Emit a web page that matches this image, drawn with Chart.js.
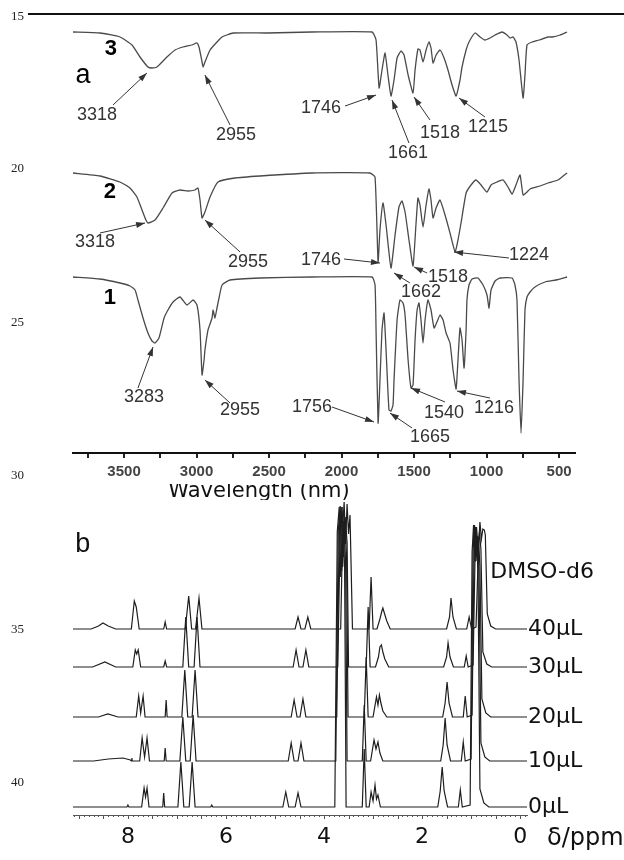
<!DOCTYPE html>
<html>
<head>
<meta charset="utf-8">
<script src="https://cdn.jsdelivr.net/npm/chart.js@4.4.1/dist/chart.umd.min.js"></script>
<style>
  body { margin: 0; background: #fff; width: 624px; height: 860px; position: relative; overflow: hidden; }
  canvas { position: absolute; left: 0; }
  #ir { top: 0; }
  #nmr { top: 490px; }
  #rule { position: absolute; left: 28px; top: 13px; width: 596px; height: 2px; background: #111; }
  .ln { position: absolute; left: 11px; font: 13px "Liberation Serif", serif; line-height: 14px; color: #222; }
</style>
</head>
<body>
<canvas id="ir" width="624" height="500" style="width:624px;height:500px"></canvas>
<canvas id="nmr" width="624" height="370" style="width:624px;height:370px"></canvas>
<div id="rule"></div>
<div class="ln" style="top:9px">15</div>
<div class="ln" style="top:161px">20</div>
<div class="ln" style="top:315px">25</div>
<div class="ln" style="top:468px">30</div>
<div class="ln" style="top:622px">35</div>
<div class="ln" style="top:775px">40</div>
<script>
// ---- panel a : IR spectra, [wavenumber, transmittance (arb.)]
const irTrace3 = [[3852,421],[3666,420],[3528,416],[3445,408],[3390,396],[3335,386],[3307,385],[3273,386],[3204,396],[3148,403],[3093,406],[3031,408],[2997,410],[2983,406],[2962,391],[2955,386],[2942,391],[2907,403],[2859,411],[2824,416],[2748,420],[2514,420],[2204,421],[1790,421],[1762,413],[1741,365],[1721,383],[1700,400],[1680,378],[1659,357],[1638,373],[1617,395],[1590,402],[1569,398],[1541,378],[1507,360],[1493,383],[1473,404],[1459,403],[1438,391],[1417,403],[1397,411],[1383,405],[1369,390],[1348,398],[1321,403],[1293,395],[1266,383],[1238,368],[1210,357],[1183,373],[1169,386],[1141,403],[1121,411],[1079,420],[1045,416],[1011,413],[976,415],[941,418],[893,421],[859,418],[838,415],[817,416],[797,411],[776,393],[748,355],[735,378],[721,408],[686,411],[638,413],[576,416],[548,416],[493,418],[445,421]];
const irTrace2 = [[3852,280],[3666,277],[3528,271],[3459,265],[3411,256],[3376,243],[3349,233],[3335,230],[3286,233],[3231,245],[3169,260],[3114,263],[3059,262],[3011,263],[2990,265],[2976,253],[2962,235],[2942,241],[2907,256],[2852,271],[2735,275],[2562,277],[2204,280],[1804,280],[1769,276],[1748,191],[1735,223],[1714,250],[1693,228],[1659,185],[1631,218],[1604,246],[1583,252],[1562,241],[1535,213],[1507,187],[1487,228],[1473,255],[1459,248],[1438,226],[1417,248],[1397,264],[1383,253],[1369,235],[1348,245],[1321,253],[1286,238],[1252,220],[1217,201],[1197,213],[1176,230],[1141,260],[1107,268],[1073,273],[1038,268],[997,261],[969,268],[928,271],[886,273],[852,266],[824,259],[797,268],[769,278],[748,258],[721,261],[700,264],[631,267],[576,270],[507,273],[472,277],[445,280]];
const irTrace1 = [[3852,176],[3666,174],[3528,170],[3459,167],[3424,163],[3404,153],[3369,135],[3335,120],[3307,112],[3286,110],[3259,115],[3224,135],[3197,143],[3162,151],[3114,156],[3066,148],[3024,153],[2997,148],[2976,123],[2962,78],[2948,93],[2942,103],[2921,123],[2893,135],[2886,143],[2873,135],[2859,145],[2845,155],[2824,168],[2769,173],[2562,175],[2204,176],[1790,176],[1769,168],[1762,123],[1748,30],[1735,73],[1721,123],[1707,140],[1693,103],[1673,43],[1659,42],[1645,48],[1638,73],[1617,133],[1597,153],[1576,150],[1562,138],[1541,93],[1521,65],[1507,68],[1493,113],[1479,143],[1466,150],[1452,133],[1438,110],[1424,133],[1404,153],[1383,143],[1362,125],[1342,131],[1321,138],[1300,133],[1279,120],[1252,110],[1231,83],[1210,64],[1197,93],[1183,125],[1169,113],[1155,85],[1141,123],[1135,153],[1121,168],[1100,174],[1059,175],[1024,168],[997,158],[983,145],[969,163],[941,172],[907,175],[824,175],[804,168],[790,153],[776,73],[762,20],[748,73],[735,143],[721,156],[700,161],[666,166],[597,171],[521,173],[445,176]];
const irTicks = [3750,3500,3250,3000,2750,2500,2250,2000,1750,1500,1250,1000,750,500];
const irTraceNames = [['3',3590,404],['2',3597,261],['1',3597,155]];
// label text, label [w,v], arrow start [w,v], arrow tip [w,v]
const irNotes = [
  ['3318',3686,338,3576,348,3342,380],
  ['2955',2728,318,2769,328,2942,378],
  ['1746',2142,345,1976,347,1762,358],
  ['1661',1541,300,1535,310,1652,353],
  ['1518',1321,320,1390,333,1500,356],
  ['1215',990,326,1011,336,1190,355],
  ['3318',3700,211,3666,220,3355,230],
  ['2955',2645,191,2700,201,2942,233],
  ['1746',2142,193,1983,194,1735,190],
  ['1662',1452,161,1528,170,1638,180],
  ['1518',1266,176,1410,180,1500,186],
  ['1224',707,198,845,195,1224,201],
  ['3283',3362,56,3404,65,3300,106],
  ['2955',2700,43,2769,50,2942,73],
  ['1756',2204,46,2066,46,1776,31],
  ['1665',1390,16,1514,25,1666,40],
  ['1540',1293,40,1286,51,1521,65],
  ['1216',948,45,976,55,1204,62]
];

// ---- panel b : 1H NMR, [ppm, intensity] per addition volume
const nmr0 = [[9.12,0],[8.02,0],[8.00,2],[7.98,0],[7.72,0],[7.67,19],[7.64,10],[7.61,19],[7.57,0],[7.29,0],[7.27,14],[7.25,0],[6.98,0],[6.92,45],[6.86,0],[6.75,0],[6.69,45],[6.63,0],[6.31,0],[6.29,2],[6.27,0],[4.84,0],[4.78,15],[4.72,0],[4.59,0],[4.53,14],[4.47,0],[3.78,0],[3.73,275],[3.69,300],[3.66,230],[3.62,290],[3.58,240],[3.55,0],[3.22,0],[3.18,58],[3.14,0],[3.08,0],[3.04,15],[3.00,6],[2.96,22],[2.93,8],[2.90,12],[2.85,0],[1.68,0],[1.63,16],[1.59,40],[1.55,16],[1.48,0],[1.26,0],[1.22,17],[1.18,0],[1.02,2],[0.98,255],[0.95,282],[0.92,245],[0.89,270],[0.86,235],[0.82,18],[0.74,4],[0.64,0],[-0.14,0]];
const nmr10 = [[9.12,0],[8.70,0],[8.40,2],[8.10,3],[7.95,1],[7.93,0],[7.92,3],[7.91,0],[7.76,0],[7.71,23],[7.66,4],[7.61,23],[7.56,0],[7.26,0],[7.24,13],[7.22,0],[6.94,0],[6.88,44],[6.82,0],[6.73,0],[6.67,46],[6.61,0],[4.73,0],[4.67,18],[4.61,0],[4.53,0],[4.47,18],[4.41,0],[3.76,0],[3.71,230],[3.67,255],[3.64,190],[3.60,240],[3.56,200],[3.53,0],[3.22,0],[3.18,56],[3.14,0],[3.05,0],[2.98,21],[2.94,12],[2.90,19],[2.86,8],[2.80,0],[1.62,0],[1.57,16],[1.53,43],[1.49,16],[1.42,0],[1.20,0],[1.16,19],[1.12,0],[1.00,2],[0.96,210],[0.93,236],[0.90,200],[0.87,225],[0.84,190],[0.80,18],[0.72,4],[0.62,0],[-0.14,0]];
const nmr20 = [[9.12,0],[8.60,0],[8.41,3],[8.20,0],[7.83,0],[7.78,21],[7.74,4],[7.69,21],[7.65,0],[7.24,0],[7.22,17],[7.20,0],[6.90,0],[6.84,47],[6.78,0],[6.69,0],[6.63,47],[6.57,0],[4.67,0],[4.61,17],[4.55,0],[4.49,0],[4.43,18],[4.37,0],[3.74,0],[3.69,185],[3.65,210],[3.62,150],[3.58,200],[3.54,160],[3.51,0],[3.18,0],[3.14,60],[3.10,0],[3.00,0],[2.93,20],[2.90,12],[2.87,22],[2.84,14],[2.80,6],[2.72,0],[1.58,0],[1.53,14],[1.49,35],[1.45,14],[1.38,0],[1.16,0],[1.12,21],[1.08,0],[0.98,2],[0.94,165],[0.91,190],[0.88,160],[0.85,180],[0.82,150],[0.78,18],[0.70,4],[0.60,0],[-0.14,0]];
const nmr30 = [[9.12,0],[8.72,0],[8.47,5],[8.25,0],[7.90,0],[7.85,17],[7.82,13],[7.79,17],[7.74,0],[7.27,0],[7.24,6],[7.21,0],[6.88,0],[6.82,50],[6.76,0],[6.65,0],[6.59,50],[6.53,0],[4.63,0],[4.57,17],[4.51,0],[4.43,0],[4.37,17],[4.31,0],[3.72,0],[3.67,135],[3.63,160],[3.60,110],[3.57,150],[3.53,125],[3.50,0],[3.14,0],[3.10,60],[3.06,0],[2.95,0],[2.89,10],[2.86,20],[2.83,22],[2.80,15],[2.76,8],[2.68,0],[1.56,0],[1.50,10],[1.47,24],[1.43,10],[1.36,0],[1.14,0],[1.10,11],[1.06,0],[0.96,2],[0.92,110],[0.89,140],[0.86,120],[0.83,135],[0.80,118],[0.76,15],[0.68,3],[0.58,0],[-0.14,0]];
const nmr40 = [[9.12,0],[8.75,0],[8.60,3],[8.51,6],[8.40,3],[8.25,0],[7.93,0],[7.87,28],[7.83,22],[7.77,0],[7.27,0],[7.24,7],[7.21,0],[6.83,0],[6.76,33],[6.70,0],[6.62,0],[6.55,31],[6.49,0],[4.59,0],[4.53,12],[4.47,0],[4.39,0],[4.33,12],[4.27,0],[3.66,0],[3.62,100],[3.59,127],[3.56,85],[3.53,125],[3.50,95],[3.47,114],[3.42,0],[3.08,0],[3.04,52],[3.00,0],[2.92,0],[2.86,10],[2.82,18],[2.80,21],[2.77,16],[2.72,8],[2.65,0],[1.50,0],[1.44,12],[1.41,31],[1.37,12],[1.30,0],[1.09,0],[1.04,12],[0.99,0],[0.90,2],[0.85,80],[0.82,107],[0.79,90],[0.76,100],[0.73,99],[0.71,94],[0.67,15],[0.60,3],[0.50,0],[-0.14,0]];
const nmrTraces = [nmr0, nmr10, nmr20, nmr30, nmr40];
const nmrOffsets = [8, 54, 98, 148, 186];
const nmrLabels = ['0μL', '10μL', '20μL', '30μL', '40μL'];
const nmrTicks = [8, 6, 4, 2, 0];

const toXY = (arr, off = 0) => arr.map(p => ({ x: p[0], y: p[1] + off }));

const arrow = (ctx, x1, y1, x2, y2) => {
  ctx.beginPath();
  ctx.moveTo(x1, y1);
  ctx.lineTo(x2, y2);
  ctx.stroke();
  const a = Math.atan2(y2 - y1, x2 - x1);
  ctx.beginPath();
  ctx.moveTo(x2, y2);
  ctx.lineTo(x2 - 9 * Math.cos(a) + 3 * Math.sin(a), y2 - 9 * Math.sin(a) - 3 * Math.cos(a));
  ctx.lineTo(x2 - 9 * Math.cos(a) - 3 * Math.sin(a), y2 - 9 * Math.sin(a) + 3 * Math.cos(a));
  ctx.closePath();
  ctx.fill();
};

const irText = {
  id: 'irText',
  afterDraw(chart) {
    const { ctx, scales: { x, y } } = chart;
    ctx.save();
    ctx.fillStyle = '#333';
    ctx.strokeStyle = '#333';
    ctx.lineWidth = 1;
    ctx.textAlign = 'center';
    ctx.textBaseline = 'middle';
    ctx.font = '18px "Liberation Sans", Arial, sans-serif';
    irNotes.forEach((n) => {
      ctx.fillText(n[0], x.getPixelForValue(n[1]), y.getPixelForValue(n[2]));
      arrow(ctx, x.getPixelForValue(n[3]), y.getPixelForValue(n[4]),
        x.getPixelForValue(n[5]), y.getPixelForValue(n[6]));
    });
    ctx.fillStyle = '#000';
    ctx.font = 'bold 22px "Liberation Sans", Arial, sans-serif';
    irTraceNames.forEach((t) => {
      ctx.fillText(t[0], x.getPixelForValue(t[1]), y.getPixelForValue(t[2]));
    });
    ctx.font = '27px "Liberation Sans", Arial, sans-serif';
    ctx.fillText('a', x.getPixelForValue(3783), y.getPixelForValue(377));
    // axis title, its top is cut off in the original
    ctx.save();
    ctx.beginPath();
    ctx.rect(0, 484, chart.width, 16);
    ctx.clip();
    ctx.font = '21px "DejaVu Sans", sans-serif';
    ctx.fillStyle = '#111';
    ctx.textBaseline = 'alphabetic';
    ctx.fillText('Wavelength (nm)', 259, 497);
    ctx.restore();
    ctx.restore();
  }
};

const nmrText = {
  id: 'nmrText',
  afterDraw(chart) {
    const { ctx, chartArea: a, scales: { x, y } } = chart;
    ctx.save();
    // minor ticks under the ppm axis
    ctx.strokeStyle = '#555';
    ctx.lineWidth = 1;
    for (let i = -1; i <= 91; i++) {
      const px = Math.round(x.getPixelForValue(i / 10)) + 0.5;
      if (px < a.left || px > a.right) continue;
      const len = i % 5 === 0 ? 4 : 2;
      ctx.beginPath();
      ctx.moveTo(px, a.bottom);
      ctx.lineTo(px, a.bottom + len);
      ctx.stroke();
    }
    ctx.fillStyle = '#111';
    ctx.textBaseline = 'middle';
    ctx.textAlign = 'left';
    ctx.font = '22px "DejaVu Sans", sans-serif';
    nmrLabels.forEach((l, i) => {
      ctx.fillText(l, a.right + 1, y.getPixelForValue(nmrOffsets[i]));
    });
    ctx.fillText('DMSO-d6', x.getPixelForValue(0.61), y.getPixelForValue(243));
    ctx.font = '24px "DejaVu Sans", sans-serif';
    ctx.fillText('δ/ppm', a.right + 20, a.bottom + 24);
    ctx.textAlign = 'center';
    ctx.font = '27px "Liberation Sans", Arial, sans-serif';
    ctx.fillText('b', x.getPixelForValue(8.92), y.getPixelForValue(270));
    ctx.restore();
  }
};

const irColor = '#4a4a4a';
new Chart(document.getElementById('ir'), {
  type: 'line',
  data: {
    datasets: [irTrace3, irTrace2, irTrace1].map((d) => ({
      data: toXY(d),
      borderColor: irColor,
      borderWidth: 1.3,
      pointRadius: 0,
      tension: 0.15,
      fill: false
    }))
  },
  options: {
    responsive: false,
    animation: false,
    devicePixelRatio: 1,
    layout: { padding: { left: 73, right: 49, top: 20, bottom: 0 } },
    plugins: { legend: { display: false }, tooltip: { enabled: false } },
    scales: {
      x: {
        type: 'linear',
        reverse: true,
        min: 390,
        max: 3852,
        afterBuildTicks: (s) => { s.ticks = irTicks.map((v) => ({ value: v })); },
        afterFit: (s) => { s.height = 47; },
        ticks: {
          autoSkip: false,
          maxRotation: 0,
          padding: 5,
          color: '#444',
          font: { family: '"Liberation Sans", Arial, sans-serif', size: 15, weight: 'bold' },
          callback: (v) => (v % 500 === 0 ? String(v) : '')
        },
        grid: { drawOnChartArea: false, drawTicks: true, tickLength: 5, lineWidth: 2, color: '#222' },
        border: { color: '#111', width: 2 }
      },
      y: { display: false, min: 0, max: 433 }
    }
  },
  plugins: [irText]
});

new Chart(document.getElementById('nmr'), {
  type: 'line',
  data: {
    datasets: nmrTraces.map((d, i) => ({
      data: toXY(d, nmrOffsets[i]),
      borderColor: '#1e1e1e',
      borderWidth: 1.2,
      pointRadius: 0,
      tension: 0,
      fill: false
    }))
  },
  options: {
    responsive: false,
    animation: false,
    devicePixelRatio: 1,
    layout: { padding: { left: 73, right: 97, top: 5, bottom: 0 } },
    plugins: { legend: { display: false }, tooltip: { enabled: false } },
    scales: {
      x: {
        type: 'linear',
        reverse: true,
        min: -0.14,
        max: 9.12,
        afterBuildTicks: (s) => { s.ticks = nmrTicks.map((v) => ({ value: v })); },
        afterFit: (s) => { s.height = 45; },
        ticks: {
          autoSkip: false,
          maxRotation: 0,
          padding: 9,
          color: '#111',
          font: { family: '"DejaVu Sans", sans-serif', size: 22 }
        },
        grid: { display: false, drawTicks: false },
        border: { display: true, color: '#555', width: 1 }
      },
      y: { display: false, min: 0, max: 320 }
    }
  },
  plugins: [nmrText]
});
</script>
</body>
</html>
